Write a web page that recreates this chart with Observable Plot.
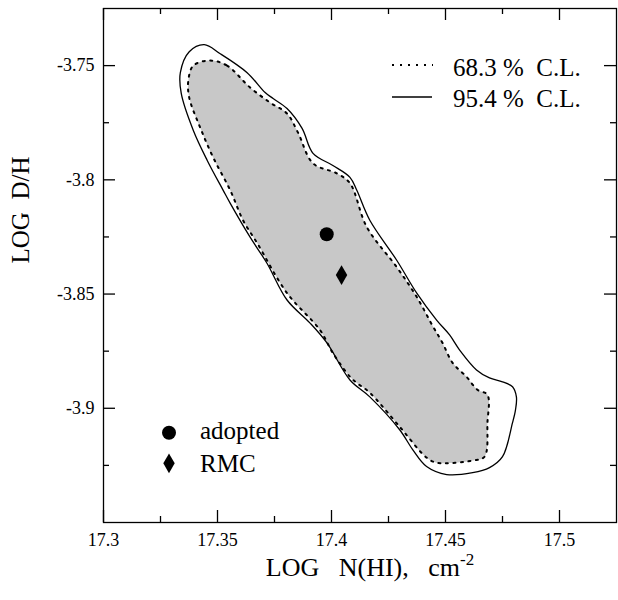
<!DOCTYPE html>
<html><head><meta charset="utf-8">
<script src="https://cdn.jsdelivr.net/npm/d3@7"></script>
<script src="https://cdn.jsdelivr.net/npm/@observablehq/plot@0.6"></script>
<style>
html,body{margin:0;padding:0;background:#fff;}
svg text{white-space:pre;font-family:'Liberation Serif','Times New Roman',serif;}
</style></head><body><div id="chart"></div>
<script>
// 95.4 % C.L. contour (solid)
const outerX = [17.3442,17.3512,17.3630,17.3709,17.3744,17.3805,17.3871,17.3919,17.4006,17.4081,17.4111,17.4168,17.4286,17.4374,17.4461,17.4518,17.4562,17.4636,17.4693,17.4750,17.4794,17.4811,17.4807,17.4794,17.4750,17.4693,17.4619,17.4505,17.4417,17.4356,17.4299,17.4168,17.4081,17.3980,17.3906,17.3805,17.3717,17.3643,17.3556,17.3525,17.3455,17.3394,17.3341,17.3337,17.3376];
const outerY = [-3.7408,-3.7448,-3.7531,-3.7618,-3.7644,-3.7688,-3.7775,-3.7884,-3.7937,-3.7989,-3.8046,-3.8177,-3.8352,-3.8496,-3.8614,-3.8679,-3.8745,-3.8832,-3.8867,-3.8884,-3.8906,-3.8950,-3.9007,-3.9063,-3.9212,-3.9260,-3.9282,-3.9290,-3.9255,-3.9181,-3.9094,-3.8950,-3.8876,-3.8714,-3.8627,-3.8526,-3.8365,-3.8251,-3.8103,-3.8046,-3.7915,-3.7784,-3.7622,-3.7531,-3.7439];
// 68.3 % C.L. contour (dotted, filled)
const innerX = [17.3468,17.3542,17.3643,17.3731,17.3805,17.3853,17.3919,17.4024,17.4081,17.4155,17.4286,17.4374,17.4444,17.4487,17.4531,17.4592,17.4640,17.4684,17.4684,17.4671,17.4619,17.4461,17.4417,17.4299,17.4168,17.4111,17.4081,17.4006,17.3949,17.3805,17.3674,17.3612,17.3556,17.3481,17.3424,17.3376,17.3372,17.3394];
const innerY = [-3.7478,-3.7500,-3.7596,-3.7662,-3.7710,-3.7793,-3.7928,-3.7972,-3.8015,-3.8207,-3.8382,-3.8513,-3.8640,-3.8714,-3.8801,-3.8862,-3.8919,-3.8941,-3.9063,-3.9212,-3.9229,-3.9238,-3.9216,-3.9081,-3.8932,-3.8889,-3.8862,-3.8758,-3.8657,-3.8496,-3.8277,-3.8177,-3.8046,-3.7902,-3.7771,-3.7640,-3.7566,-3.7500];

const pointNames = ["adopted", "RMC"];
const pointX = [17.3979, 17.4044];
const pointY = [-3.8238, -3.8417];
const pointSymbols = ["circle", "diamond"];

const xDomain = [17.3, 17.525];
const yDomain = [-3.95, -3.725];
const xMajorTicks = [17.3, 17.35, 17.4, 17.45, 17.5];
const xTickLabels = ["17.3", "17.35", "17.4", "17.45", "17.5"];
const xMinorTicks = [17.325, 17.375, 17.425, 17.475];
const yMajorTicks = [-3.75, -3.8, -3.85, -3.9];
const yTickLabels = ["-3.75", "-3.8", "-3.85", "-3.9"];
const yMinorTicks = [-3.775, -3.825, -3.875, -3.925];

const xTitle = "LOG   N(HI),   cm";
const xTitleSup = "-2";
const yTitle = "LOG  D/H";
const contourLabels = ["68.3 %  C.L.", "95.4 %  C.L."];

const outer = outerX.map((x, i) => ({x, y: outerY[i]}));
const inner = innerX.map((x, i) => ({x, y: innerY[i]}));
const points = pointNames.map((name, i) => ({name, x: pointX[i], y: pointY[i], symbol: pointSymbols[i]}));

const FONT = "'Liberation Serif', 'Times New Roman', serif";
const fmt = (ticks, labels) => d => labels[ticks.findIndex(t => Math.abs(t - d) < 1e-9)];
const curve = "catmull-rom-closed";
const SW = 1.3;
const W = 618, H = 600, ML = 103, MR = 2, MT = 8, MB = 78;
const FW = W - ML - MR, FH = H - MT - MB;
const MAJ = 12, MIN = 6;

const chart = Plot.plot({
  width: W, height: H,
  marginLeft: ML, marginRight: MR, marginTop: MT, marginBottom: MB,
  x: {domain: xDomain, label: null},
  y: {domain: yDomain, label: null},
  style: {fontFamily: FONT, background: "white", color: "black", overflow: "visible"},
  marks: [
    Plot.line(inner, {x: "x", y: "y", curve, fill: "#c8c8c8", stroke: "none"}),
    Plot.line(inner, {x: "x", y: "y", curve, fill: "none", stroke: "black", strokeWidth: 2, strokeDasharray: "2,5.5"}),
    Plot.line(outer, {x: "x", y: "y", curve, fill: "none", stroke: "black", strokeWidth: SW}),
    Plot.dot(points.filter(d => d.symbol === "circle"), {x: "x", y: "y", symbol: "circle", r: 7, fill: "black"}),
    Plot.dot(points.filter(d => d.symbol === "diamond"), {x: "x", y: "y", symbol: "diamond", r: 6, fill: "black"}),
    Plot.frame({stroke: "black", strokeWidth: SW}),
    // inward ticks on all four sides
    Plot.ruleX(xMajorTicks, {insetTop: FH - MAJ, strokeWidth: SW}),
    Plot.ruleX(xMinorTicks, {insetTop: FH - MIN, strokeWidth: SW}),
    Plot.ruleX(xMajorTicks, {insetBottom: FH - MAJ, strokeWidth: SW}),
    Plot.ruleX(xMinorTicks, {insetBottom: FH - MIN, strokeWidth: SW}),
    Plot.ruleY(yMajorTicks, {insetRight: FW - MAJ, strokeWidth: SW}),
    Plot.ruleY(yMinorTicks, {insetRight: FW - MIN, strokeWidth: SW}),
    Plot.ruleY(yMajorTicks, {insetLeft: FW - MAJ, strokeWidth: SW}),
    Plot.ruleY(yMinorTicks, {insetLeft: FW - MIN, strokeWidth: SW}),
    // tick labels
    Plot.axisX(xMajorTicks, {anchor: "bottom", tickSize: 0, tickPadding: 11, fontSize: 18, fontFamily: FONT, tickFormat: fmt(xMajorTicks, xTickLabels), label: null}),
    Plot.axisY(yMajorTicks, {anchor: "left", tickSize: 0, tickPadding: 9, fontSize: 18, fontFamily: FONT, tickFormat: fmt(yMajorTicks, yTickLabels), label: null}),
    // axis titles
    Plot.text([xTitle], {text: d => d, frameAnchor: "bottom", dx: 10, dy: 53, lineAnchor: "bottom", fontSize: 26, fontFamily: FONT}),
    Plot.text([yTitle], {text: d => d, frameAnchor: "left", dx: -74.5, dy: -2, rotate: -90, lineAnchor: "bottom", fontSize: 25, fontFamily: FONT})
  ]
});
document.getElementById("chart").appendChild(chart);

const svg = d3.select(chart);
// superscript on x title
svg.selectAll("text").filter(function() { return this.textContent === xTitle; })
  .append("tspan").attr("dy", "-0.62em").attr("font-size", 17).text(xTitleSup);

// legends inside the frame
const lg = svg.append("g").style("font-family", FONT).style("font-size", "25px")
  .attr("fill", "black").attr("text-anchor", "start");
lg.append("line").attr("x1", 392).attr("x2", 433).attr("y1", 65).attr("y2", 65)
  .attr("stroke", "black").attr("stroke-width", 2).attr("stroke-dasharray", "2,6");
lg.append("text").attr("x", 453).attr("y", 75.5).text(contourLabels[0]);
lg.append("line").attr("x1", 392).attr("x2", 432).attr("y1", 97).attr("y2", 97)
  .attr("stroke", "black").attr("stroke-width", SW);
lg.append("text").attr("x", 453).attr("y", 106.5).text(contourLabels[1]);

lg.append("path").attr("transform", "translate(169,432.7)")
  .attr("d", d3.symbol(d3.symbolCircle, Math.PI * 7 * 7)());
lg.append("text").attr("x", 200).attr("y", 438.5).text(pointNames[0]);
lg.append("path").attr("transform", "translate(169,463.3)")
  .attr("d", d3.symbol(d3.symbolDiamond, Math.PI * 6 * 6)());
lg.append("text").attr("x", 200).attr("y", 471.5).text(pointNames[1]);
</script></body></html>
